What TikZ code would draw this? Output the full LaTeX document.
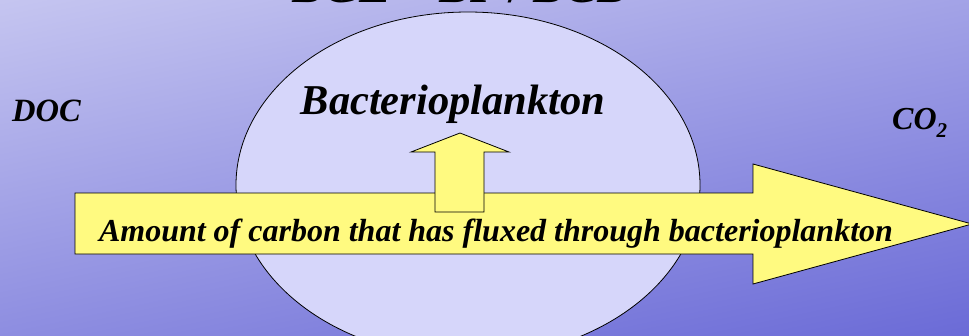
\documentclass[tikz,border=0pt]{standalone}
\usepackage{fontspec}
\setmainfont{Liberation Serif}[
  BoldFont={* Bold},
  ItalicFont={* Italic},
  BoldItalicFont={* Bold Italic}]
\definecolor{bgtop}{RGB}{200,200,241}
\definecolor{bgbot}{RGB}{104,104,214}
\definecolor{ellfill}{RGB}{214,214,250}
\definecolor{arrowyellow}{RGB}{255,250,128}
\begin{document}
\begin{tikzpicture}[x=1pt,y=-1pt,
  lbl/.style={inner sep=0pt},
  shapeline/.style={draw=black, line width=0.8pt},
  bigarrow/.style={shapeline, fill=arrowyellow, line join=miter}]
\useasboundingbox (0,0) rectangle (969,335);
\clip (0,0) rectangle (969,335);
\shade[top color=bgtop, bottom color=bgbot, shading angle=12] (-60,-60) rectangle (1030,395);
% ellipse
\draw[shapeline, fill=ellfill] (468,185) ellipse [x radius=232, y radius=173];
% big arrow
\path[bigarrow] (75,193) -- (753,193) -- (753,164) -- (972,224) -- (753,284) -- (753,254) -- (75,254) -- cycle;
% small up arrow
\path[bigarrow] (435,212) -- (435,152) -- (411,152) -- (460,133) -- (509,152) -- (484,152) -- (484,212) -- cycle;
% texts
\node[lbl, anchor=base, font=\fontsize{46}{50}\selectfont\bfseries] (title) at (461,2) {BGE = BP / BCD};
\node[lbl, anchor=base, font=\fontsize{42.5}{46}\selectfont\bfseries\itshape] (bact) at (453,114) {Bacterioplankton};
\node[lbl, anchor=base west, font=\fontsize{32.5}{36}\selectfont\bfseries\itshape] (doc) at (12,121) {DOC};
\node[lbl, anchor=base west, font=\fontsize{32}{36}\selectfont\bfseries\itshape] (co2) at (892,129) {CO\raisebox{-0.28em}{\fontsize{21}{24}\selectfont 2}};
\node[lbl, anchor=base, font=\fontsize{32}{36}\selectfont\bfseries\itshape] (flux) at (496,241) {Amount of carbon that has fluxed through bacterioplankton};
\end{tikzpicture}
\end{document}
